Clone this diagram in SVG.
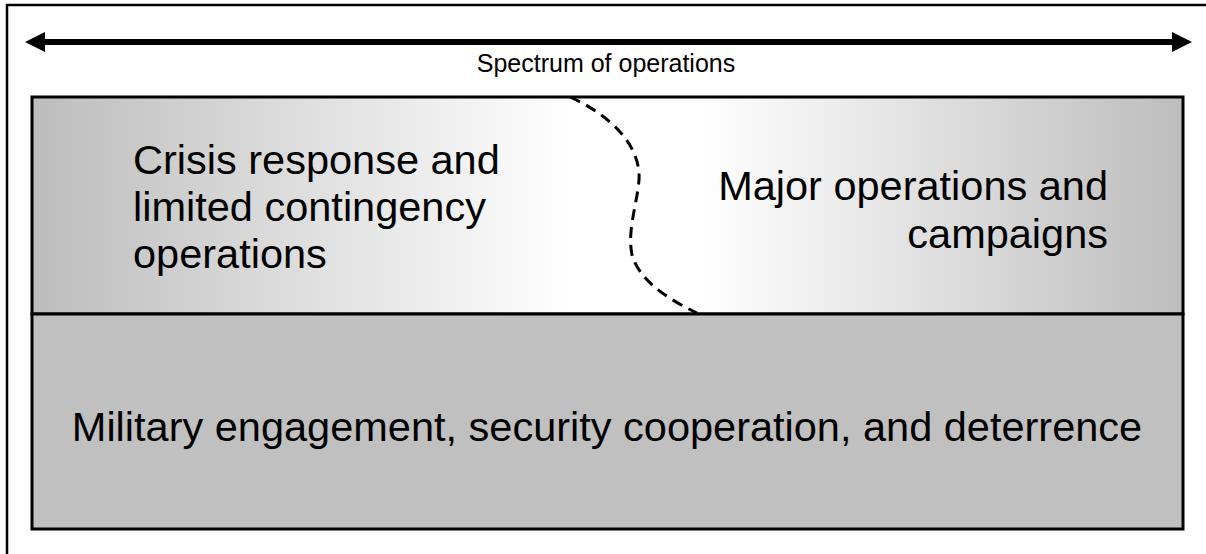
<svg xmlns="http://www.w3.org/2000/svg" width="1206" height="554" viewBox="0 0 1206 554">
<style>
  text { font-family: "Liberation Sans", Arial, sans-serif; fill: #000; }
  .big { font-size: 41.5px; }
  .box { stroke: #000; stroke-width: 3; }
</style>
<defs>
  <linearGradient id="topGrad" x1="0" y1="0" x2="1" y2="0">
    <stop offset="0" stop-color="#bdbdbd"/>
    <stop offset="0.47" stop-color="#ffffff"/>
    <stop offset="0.58" stop-color="#ffffff"/>
    <stop offset="1" stop-color="#bdbdbd"/>
  </linearGradient>
  <marker id="ah" viewBox="0 0 20 20" refX="0" refY="10" markerWidth="20" markerHeight="20" markerUnits="userSpaceOnUse" orient="auto-start-reverse">
    <path d="M0,0 L20,10 L0,20 Z" fill="#000"/>
  </marker>
</defs>
<rect width="1206" height="554" fill="#fff"/>
<g id="frame">
  <path d="M7,560 L7,5 L1210,5" fill="none" stroke="#000" stroke-width="2.5"/>
</g>
<g id="spectrum-label">
  <text x="606" y="72" font-size="25" text-anchor="middle">Spectrum of operations</text>
</g>
<g id="upper-box">
  <rect class="box" x="32" y="97" width="1151" height="217" fill="url(#topGrad)"/>
</g>
<g id="lower-box">
  <rect class="box" x="32" y="314" width="1151" height="215" fill="#c0c0c0"/>
  <text class="big" x="607" y="441" text-anchor="middle">Military engagement, security cooperation, and deterrence</text>
</g>
<g id="connectors">
  <line x1="45" y1="42" x2="1172" y2="42" stroke="#000" stroke-width="6" marker-start="url(#ah)" marker-end="url(#ah)"/>
  <path d="M570,97 C610,115 641,145 639,180 C637,205 627,230 632,255 C640,282 670,300 697,313" fill="none" stroke="#000" stroke-width="3" stroke-dasharray="11,7"/>
</g>
<g id="crisis-node">
  <text class="big" x="133" y="174">Crisis response and</text>
  <text class="big" x="133" y="221">limited contingency</text>
  <text class="big" x="133" y="268">operations</text>
</g>
<g id="major-node">
  <text class="big" x="1108" y="200" text-anchor="end">Major operations and</text>
  <text class="big" x="1108" y="248" text-anchor="end">campaigns</text>
</g>
</svg>
